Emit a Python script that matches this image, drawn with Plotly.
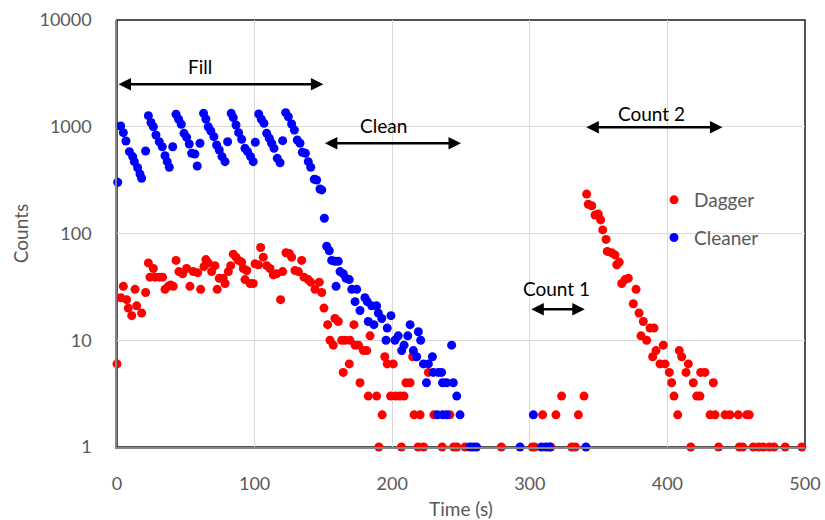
import plotly.graph_objects as go
import math

# ---- Data ----
dagger_time = [0, 2.7, 4.6, 7, 8.2, 10.7, 13.1, 14.3, 17.9, 20.8, 22.8, 24, 26.4, 27.6, 30.7, 33.1, 34.9, 37.3, 39, 40.9,
               42.9, 45, 47.7, 50.6, 53, 55.4, 58.6, 60.8, 63.2, 64.6, 66.3, 68.8, 71.2, 72.8, 74.3, 77.2, 78.5, 80.9, 82.6,
               84.5, 86.5, 88.2, 90.6, 91.8, 93, 94.3, 96.7, 99, 100.3, 102.7, 104.4, 106.3, 108.8, 111.2, 113.6, 116,
               118.9, 120.4, 122.8, 125.2, 126.9, 129.4, 131.8, 134.2, 135.9, 139, 140.8, 143.9, 147, 148.8, 150.4,
               153.1, 154.8, 157.2, 158.4, 160.8, 163.3, 164.4, 165.7, 168.8, 169.3, 172.2, 173, 175.5, 176.6, 179.1,
               181.5, 182.6, 183.9, 188.7, 190.3, 192.7, 194.6, 196.4, 198.8, 200.8, 202.5, 205.7, 206.7, 208.6, 210,
               213, 214.9, 215.9, 218.8, 220.3, 222.8, 226.3, 230.3, 236.3, 241.9, 244.7, 247, 253, 279.3, 301.8, 303.5,
               309.3, 315.3, 319, 323.1, 330.4, 333.1, 335.3, 339.4,
               341.3, 342.5, 345, 347.4, 349.8, 351.5, 353, 355.4, 356.3, 359.5, 361.9, 363.2, 365, 366.8, 369.2, 371.6,
               375.2, 377.2, 379.4, 380.8, 382.5, 384.9, 387.4, 389.3, 390.3, 391.7, 394.6, 397, 398.3, 401.4, 403.1,
               404.8, 407.5, 408.6, 410.4, 413.5, 415.2, 417, 418.8, 421.3, 423.7, 424.2, 427.3, 431, 433.4, 434.6,
               437.2, 441.9, 445.5, 451.5, 452.3, 454.7, 457.6, 459.5, 462.4, 466.4, 469.7, 474.1, 477.5, 485.6, 497.7]
dagger_counts = [6, 25, 32, 24, 20, 17, 30, 21, 18, 28, 53, 39, 47, 39, 39, 39, 30, 32, 33, 32,
                 56, 44, 42, 47, 32, 44, 43, 30, 49, 57, 53, 44, 50, 30, 38, 38, 34, 44, 50,
                 64, 60, 56, 54, 47, 37, 45, 34, 34, 52, 51, 74, 60, 50, 47, 41, 42,
                 24, 44, 66, 65, 60, 45, 44, 56, 39, 37, 35, 30, 35, 28, 20,
                 14, 10, 9, 16, 15, 10, 5, 10, 6, 10, 14, 9, 9, 4, 8,
                 8, 3, 11, 3, 1, 2, 7, 6, 3, 6, 3, 3, 1, 3, 4,
                 4, 7, 2, 1, 2, 1, 5, 2, 1, 2, 1, 1, 1, 1, 1, 1,
                 2, 1, 2, 3, 1, 1, 2, 3,
                 234, 188, 182, 149, 152, 134, 108, 88, 68, 66, 63, 51, 54, 34, 37, 38,
                 22, 30, 18, 11, 15, 10, 13, 7, 13, 8, 6, 9, 6, 5, 4,
                 3, 2, 8, 7, 5, 6, 1, 4, 3, 3, 5, 5, 2, 4, 2,
                 1, 2, 2, 2, 1, 1, 2, 2, 1, 1, 1, 1, 1, 1, 1]

cleaner_time = [0.5, 2.7, 4.6, 6.5, 9, 11.4, 12.6, 15, 16.7, 17.9, 20.8,
                22.8, 24.7, 26.4, 28.3, 30.7, 32.9, 34.9, 36.5, 38, 40.5,
                42.9, 44.8, 46.7, 48.7, 50.6, 52.5, 54.3, 56.6, 58.3, 60.3,
                62.9, 64.6, 66.3, 68.2, 70.4, 72.4, 74.3, 76.3, 78.5, 80.4,
                83, 84.5, 86.5, 88.4, 90.6, 93, 94.9, 97.1, 99, 100.5,
                103, 104.9, 106.8, 108.8, 110.7, 112.4, 114.1, 116.5, 118.5, 120.4,
                122.6, 124.5, 126.9, 128.9, 131, 133, 134.7, 136.9, 139, 140.8, 143.4, 145.1, 147.5, 148.8, 150.7,
                152.4, 154.3, 156, 158.4, 159.2, 160.8, 162.1, 164.4, 166.4, 168.8, 170.6, 173, 174.2, 176.6,
                180.2, 181.9, 182.6, 185.1, 186.7, 188.7, 189.9, 192.4, 195.5, 196.4, 199.1, 202, 204.4, 206.9,
                208.6, 211.3, 213, 215.4, 217.8, 219, 220.7, 222.7, 224.9, 226.3, 229.2, 229.8, 232.8, 233.5,
                235.9, 236.6, 236.7, 239.5, 239.6, 243.2, 244.4, 246.9, 249.3, 256.5, 258.9, 261.3, 292.9,
                302.6, 308.5, 311.9, 314.3, 340.8]
cleaner_counts = [302, 1016, 880, 735, 584, 525, 471, 413, 361, 329, 593,
                  1270, 1097, 1000, 837, 724, 650, 535, 471, 417, 650,
                  1309, 1175, 1055, 868, 796, 689, 564, 556, 429, 700,
                  1336, 1183, 1000, 912, 807, 675, 605, 525, 471, 724,
                  1336, 1216, 1038, 880, 762, 628, 584, 525, 471, 715,
                  1318, 1175, 1077, 868, 780, 700, 628, 506, 460, 741,
                  1355, 1242, 1062, 933, 751, 700, 577, 564, 471, 417, 322, 317, 261, 256, 139,
                  76, 69, 56, 55, 32, 55, 44, 42, 38, 37, 30, 23, 30, 19,
                  25, 23, 15, 21, 14, 21, 18, 16, 10, 13, 17, 10, 11, 8,
                  9, 11, 14, 8, 7, 12, 10, 6, 4, 6, 7, 5, 2, 5,
                  5, 4, 2, 4, 2, 9, 4, 3, 2, 1, 1, 1, 1,
                  2, 1, 1, 1, 1]

x_ticks = [0, 100, 200, 300, 400, 500]
y_ticks = [1, 10, 100, 1000, 10000]
y_tick_labels = ["1", "10", "100", "1000", "10000"]

# phase annotations: (label, start, end, arrow level, label x, label level)
phases = [
    ("Fill", 0, 150, 2500, 60, 3650),
    ("Clean", 150, 250, 700, 194, 1023),
    ("Count 1", 300, 340, 19.5, 319.5, 30.7),
    ("Count 2", 340, 440, 990, 388.6, 1336),
]

FONT = "Lato, Carlito, Calibri, sans-serif"
GRAY = "#595959"

fig = go.Figure()
fig.add_trace(go.Scatter(x=dagger_time, y=dagger_counts, mode="markers", name="Dagger",
                         marker=dict(color="#ff0000", size=9), cliponaxis=False,
                         legendgroup="d"))
fig.add_trace(go.Scatter(x=cleaner_time, y=cleaner_counts, mode="markers", name="Cleaner",
                         marker=dict(color="#0000ff", size=9), cliponaxis=False,
                         legendgroup="c"))

annotations = []
for label, x0, x1, lvl, tx, tl in phases:
    annotations.append(dict(x=x1, y=math.log10(lvl), ax=x0, ay=math.log10(lvl),
                            xref="x", yref="y", axref="x", ayref="y",
                            showarrow=True, arrowhead=2, arrowside="end+start",
                            arrowsize=1, arrowwidth=2.5, arrowcolor="black", text=""))
    annotations.append(dict(x=tx, y=math.log10(tl), xref="x", yref="y", text=label,
                            showarrow=False, font=dict(family=FONT, size=19, color="black")))

fig.update_layout(
    width=825, height=520,
    margin=dict(l=117, r=20, t=20, b=73),
    paper_bgcolor="white", plot_bgcolor="white",
    font=dict(family=FONT, size=18, color=GRAY),
    showlegend=True,
    legend=dict(x=(654 - 117) / 688, y=(447 - 181) / 427, xanchor="left", yanchor="top",
                bgcolor="rgba(0,0,0,0)", font=dict(family=FONT, size=19, color=GRAY),
                tracegroupgap=10, traceorder="grouped"),
    annotations=annotations,
    shapes=[dict(type="rect", xref="paper", yref="paper", x0=0, x1=1, y0=0, y1=1,
                 line=dict(color="#1a1a1a", width=1.5), layer="below")],
)
fig.update_xaxes(range=[0, 500], tickvals=x_ticks, showgrid=True, gridcolor="#d9d9d9", gridwidth=1,
                 showline=True, linecolor="#868686", linewidth=1.5, zeroline=False,
                 ticks="", ticklabelstandoff=20, automargin=False,
                 tickfont=dict(family=FONT, size=18, color=GRAY),
                 title=dict(text="Time (s)", font=dict(family=FONT, size=19, color=GRAY)))
fig.update_yaxes(type="log", range=[0, 4], tickvals=y_ticks, ticktext=y_tick_labels,
                 showgrid=True, gridcolor="#d9d9d9", gridwidth=1,
                 showline=True, linecolor="#868686", linewidth=1.5, zeroline=False,
                 ticks="", ticklabelstandoff=20, automargin="left",
                 tickfont=dict(family=FONT, size=18, color=GRAY),
                 title=dict(text="Counts", font=dict(family=FONT, size=19, color=GRAY), standoff=6))

fig.write_html("out.html")
